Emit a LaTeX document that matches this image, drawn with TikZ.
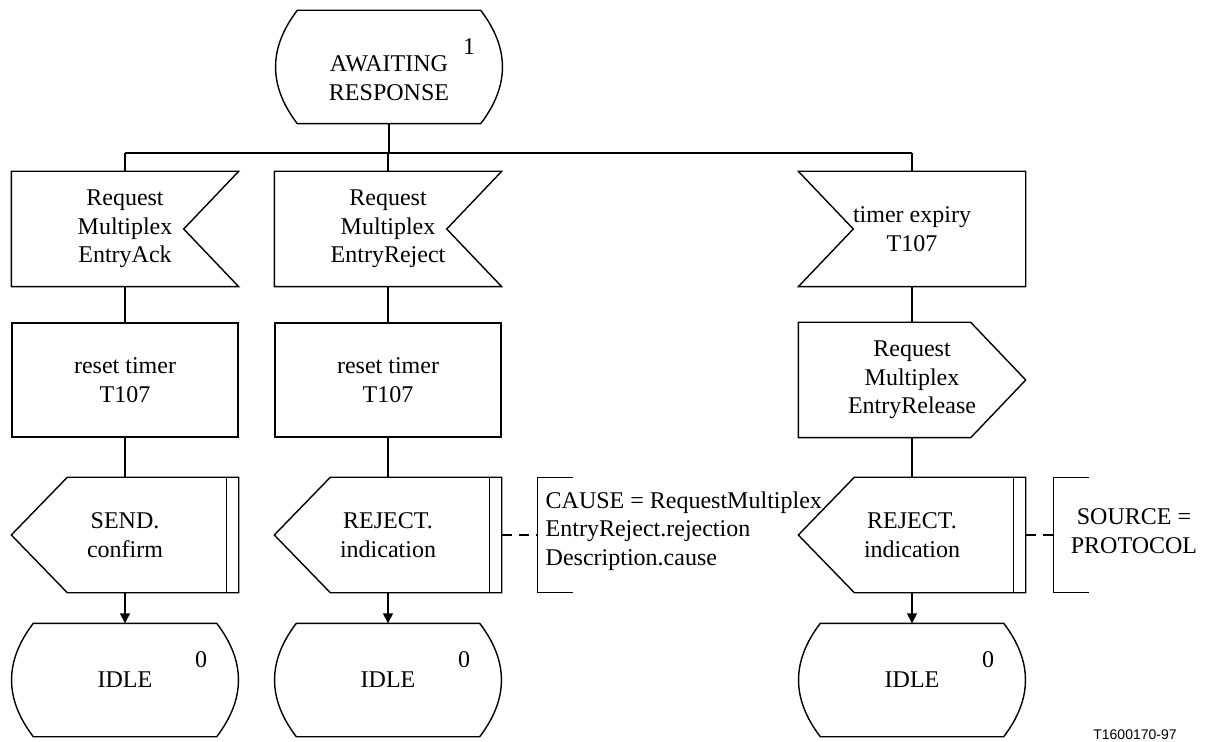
\documentclass[tikz,border=0pt]{standalone}
\usepackage{fontspec}
\setmainfont{Liberation Serif}
\setsansfont{Liberation Sans}
\usetikzlibrary{arrows.meta, calc}

\begin{document}
\begin{tikzpicture}[
  x=0.5pt, y=-0.5pt,
  font=\fontsize{12}{14.3}\selectfont, line width=0.7pt,
  sdl/.style={minimum width=113pt, minimum height=57pt, inner sep=0pt, align=center},
  statebox/.style={sdl, minimum height=56pt},
  taskbox/.style={sdl, draw},
  inbox/.style={sdl},
  outbox/.style={sdl},
  numtag/.style={inner sep=0pt},
  brack/.style={minimum width=17pt, minimum height=57pt, inner sep=0pt},
  note/.style={inner sep=0pt},
  arr/.style={-{Triangle[length=5pt, width=5pt]}},
  cline/.style={dash pattern=on 5pt off 3.5pt},
]
\useasboundingbox (0,0) rectangle (1220,742);

% ---- top state and branch bus ----
\node[statebox] (await) at (389,67) {\rule{0pt}{19pt}AWAITING\\RESPONSE};
\node[numtag] (awaitnum) at (469,47) {1};
\coordinate (busL) at (125,153);
\coordinate (busR) at (912,153);

% ---- column A ----
\node[inbox]    (inA)   at (125,229) {Request\\Multiplex\\EntryAck};
\node[taskbox]  (taskA) at (125,380) {reset timer\\T107};
\node[outbox]   (outA)  at (125,535) {SEND.\\confirm};
\node[statebox] (idleA) at (125,680) {IDLE};
\node[numtag]   (numA)  at (201,660) {0};

% ---- column B ----
\node[inbox]    (inB)   at (388,229) {Request\\Multiplex\\EntryReject};
\node[taskbox]  (taskB) at (388,380) {reset timer\\T107};
\node[outbox]   (outB)  at (388,535) {REJECT.\\indication};
\node[statebox] (idleB) at (388,680) {IDLE};
\node[numtag]   (numB)  at (464,660) {0};
\node[brack]    (brkB)  at (555,535) {};
\node[note, anchor=west, align=left] (causeB) at (545,531)
  {CAUSE = RequestMultiplex\\EntryReject.rejection\\Description.cause};

% ---- column C ----
\node[inbox]    (inC)   at (912,229) {timer expiry\\T107};
\node[outbox]   (relC)  at (912,380) {Request\\Multiplex\\EntryRelease};
\node[outbox]   (outC)  at (912,535) {REJECT.\\indication};
\node[statebox] (idleC) at (912,680) {IDLE};
\node[numtag]   (numC)  at (988,660) {0};
\node[brack]    (brkC)  at (1071,535) {};
\node[note, align=center] (srcC) at (1134,531) {SOURCE =\\PROTOCOL};

\node[font=\sffamily\fontsize{7}{8}\selectfont, inner sep=0pt] (figid) at (1135,735) {T1600170-97};

% ---- outlines ----
\foreach \s in {await, idleA, idleB, idleC}
  \draw ($(\s.north west)+(22,0)$) -- ($(\s.north east)+(-22,0)$)
    .. controls ($(\s.north east)+(7,38)$) and ($(\s.south east)+(7,-38)$) .. ($(\s.south east)+(-22,0)$)
    -- ($(\s.south west)+(22,0)$)
    .. controls ($(\s.south west)+(-7,-38)$) and ($(\s.north west)+(-7,38)$) .. ($(\s.north west)+(22,0)$) -- cycle;
\foreach \s in {inA, inB}
  \draw (\s.north west) -- (\s.north east) -- ($(\s.east)+(-55,0)$) -- (\s.south east) -- (\s.south west) -- cycle;
\draw (inC.north west) -- (inC.north east) -- (inC.south east) -- (inC.south west) -- ($(inC.west)+(55,0)$) -- cycle;
\draw (relC.north west) -- ($(relC.north east)+(-55,0)$) -- (relC.east) -- ($(relC.south east)+(-55,0)$) -- (relC.south west) -- cycle;
\foreach \s in {outA, outB, outC} {
  \draw (\s.west) -- ($(\s.north west)+(56,0)$) -- (\s.north east) -- (\s.south east) -- ($(\s.south west)+(56,0)$) -- cycle;
  \draw ($(\s.north east)+(-12,0)$) -- ($(\s.south east)+(-12,0)$);
}
\foreach \b in {brkB, brkC}
  \draw (\b.north east) -- (\b.north west) -- (\b.south west) -- (\b.south east);

% ---- connectors ----
\draw (await) -- (await |- busL);
\draw (busL) -- (busR);
\draw (busL) -- (inA);
\draw (inB |- busL) -- (inB);
\draw (busR) -- (inC);
\draw (inA) -- (taskA);
\draw (taskA) -- (outA);
\draw[arr] (outA) -- (idleA);
\draw (inB) -- (taskB);
\draw (taskB) -- (outB);
\draw[arr] (outB) -- (idleB);
\draw (inC) -- (relC);
\draw (relC) -- (outC);
\draw[arr] (outC) -- (idleC);
\draw[cline] (outB) -- (brkB);
\draw[cline] (outC) -- (brkC);

\end{tikzpicture}
\end{document}
